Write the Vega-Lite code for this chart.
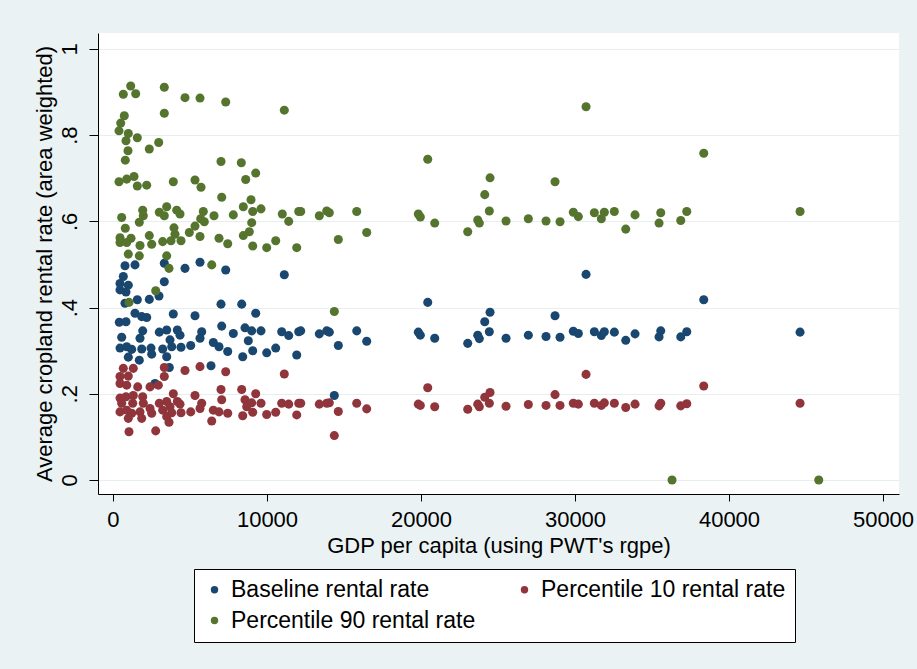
{
  "$schema": "https://vega.github.io/schema/vega-lite/v6.json",
  "width": 801,
  "height": 461,
  "autosize": {"type": "none"},
  "padding": {"left": 98, "top": 33, "right": 18, "bottom": 175},
  "background": "#EAF2F3",
  "view": {"fill": "white", "stroke": null},
  "config": {
    "font": "Liberation Sans",
    "axis": {"labelFont": "Liberation Sans", "titleFont": "Liberation Sans", "labelColor": "black", "titleColor": "black", "domainColor": "black", "tickColor": "black", "titleFontWeight": "normal"},
    "legend": {"labelFont": "Liberation Sans"}
  },
  "data": {"values": [
    {"s":"Baseline rental rate","x":779,"y":0.497},{"s":"Baseline rental rate","x":1429,"y":0.499},{"s":"Baseline rental rate","x":3331,"y":0.503},{"s":"Baseline rental rate","x":4676,"y":0.491},{"s":"Baseline rental rate","x":5650,"y":0.505},{"s":"Baseline rental rate","x":7319,"y":0.487},{"s":"Baseline rental rate","x":11124,"y":0.476},{"s":"Baseline rental rate","x":669,"y":0.472},{"s":"Baseline rental rate","x":455,"y":0.456},{"s":"Baseline rental rate","x":994,"y":0.452},{"s":"Baseline rental rate","x":3331,"y":0.46},{"s":"Baseline rental rate","x":455,"y":0.441},{"s":"Baseline rental rate","x":844,"y":0.436},{"s":"Baseline rental rate","x":779,"y":0.41},{"s":"Baseline rental rate","x":1578,"y":0.418},{"s":"Baseline rental rate","x":2357,"y":0.419},{"s":"Baseline rental rate","x":2987,"y":0.427},{"s":"Baseline rental rate","x":7014,"y":0.408},{"s":"Baseline rental rate","x":8358,"y":0.408},{"s":"Baseline rental rate","x":9267,"y":0.387},{"s":"Baseline rental rate","x":1429,"y":0.387},{"s":"Baseline rental rate","x":1864,"y":0.379},{"s":"Baseline rental rate","x":2188,"y":0.377},{"s":"Baseline rental rate","x":409,"y":0.366},{"s":"Baseline rental rate","x":844,"y":0.367},{"s":"Baseline rental rate","x":3916,"y":0.385},{"s":"Baseline rental rate","x":5325,"y":0.381},{"s":"Baseline rental rate","x":7059,"y":0.357},{"s":"Baseline rental rate","x":7812,"y":0.34},{"s":"Baseline rental rate","x":8572,"y":0.353},{"s":"Baseline rental rate","x":9007,"y":0.346},{"s":"Baseline rental rate","x":9611,"y":0.346},{"s":"Baseline rental rate","x":10955,"y":0.344},{"s":"Baseline rental rate","x":11410,"y":0.335},{"s":"Baseline rental rate","x":12060,"y":0.344},{"s":"Baseline rental rate","x":565,"y":0.331},{"s":"Baseline rental rate","x":1929,"y":0.346},{"s":"Baseline rental rate","x":1753,"y":0.329},{"s":"Baseline rental rate","x":3007,"y":0.343},{"s":"Baseline rental rate","x":3487,"y":0.348},{"s":"Baseline rental rate","x":4176,"y":0.348},{"s":"Baseline rental rate","x":4351,"y":0.336},{"s":"Baseline rental rate","x":5760,"y":0.344},{"s":"Baseline rental rate","x":5650,"y":0.329},{"s":"Baseline rental rate","x":3702,"y":0.325},{"s":"Baseline rental rate","x":5046,"y":0.312},{"s":"Baseline rental rate","x":6514,"y":0.319},{"s":"Baseline rental rate","x":6884,"y":0.309},{"s":"Baseline rental rate","x":7449,"y":0.298},{"s":"Baseline rental rate","x":8786,"y":0.323},{"s":"Baseline rental rate","x":9072,"y":0.3},{"s":"Baseline rental rate","x":9981,"y":0.295},{"s":"Baseline rental rate","x":10566,"y":0.306},{"s":"Baseline rental rate","x":11930,"y":0.29},{"s":"Baseline rental rate","x":8423,"y":0.286},{"s":"Baseline rental rate","x":455,"y":0.306},{"s":"Baseline rental rate","x":890,"y":0.309},{"s":"Baseline rental rate","x":1214,"y":0.303},{"s":"Baseline rental rate","x":1864,"y":0.304},{"s":"Baseline rental rate","x":2468,"y":0.306},{"s":"Baseline rental rate","x":2513,"y":0.292},{"s":"Baseline rental rate","x":3227,"y":0.304},{"s":"Baseline rental rate","x":3812,"y":0.309},{"s":"Baseline rental rate","x":4416,"y":0.308},{"s":"Baseline rental rate","x":994,"y":0.285},{"s":"Baseline rental rate","x":1708,"y":0.278},{"s":"Baseline rental rate","x":3487,"y":0.286},{"s":"Baseline rental rate","x":3656,"y":0.261},{"s":"Baseline rental rate","x":6364,"y":0.265},{"s":"Baseline rental rate","x":2727,"y":0.224},{"s":"Baseline rental rate","x":20437,"y":0.412},{"s":"Baseline rental rate","x":24483,"y":0.389},{"s":"Baseline rental rate","x":24139,"y":0.367},{"s":"Baseline rental rate","x":28703,"y":0.381},{"s":"Baseline rental rate","x":12190,"y":0.346},{"s":"Baseline rental rate","x":13397,"y":0.339},{"s":"Baseline rental rate","x":13878,"y":0.346},{"s":"Baseline rental rate","x":14046,"y":0.343},{"s":"Baseline rental rate","x":15826,"y":0.346},{"s":"Baseline rental rate","x":14631,"y":0.312},{"s":"Baseline rental rate","x":16475,"y":0.322},{"s":"Baseline rental rate","x":14371,"y":0.196},{"s":"Baseline rental rate","x":19826,"y":0.343},{"s":"Baseline rental rate","x":19956,"y":0.336},{"s":"Baseline rental rate","x":20891,"y":0.329},{"s":"Baseline rental rate","x":23034,"y":0.317},{"s":"Baseline rental rate","x":23684,"y":0.336},{"s":"Baseline rental rate","x":23788,"y":0.328},{"s":"Baseline rental rate","x":24437,"y":0.344},{"s":"Baseline rental rate","x":25522,"y":0.329},{"s":"Baseline rental rate","x":26970,"y":0.336},{"s":"Baseline rental rate","x":28119,"y":0.333},{"s":"Baseline rental rate","x":29028,"y":0.331},{"s":"Baseline rental rate","x":29892,"y":0.345},{"s":"Baseline rental rate","x":30217,"y":0.34},{"s":"Baseline rental rate","x":30717,"y":0.477},{"s":"Baseline rental rate","x":38360,"y":0.418},{"s":"Baseline rental rate","x":44614,"y":0.343},{"s":"Baseline rental rate","x":31256,"y":0.344},{"s":"Baseline rental rate","x":31710,"y":0.335},{"s":"Baseline rental rate","x":31905,"y":0.344},{"s":"Baseline rental rate","x":32555,"y":0.343},{"s":"Baseline rental rate","x":33295,"y":0.324},{"s":"Baseline rental rate","x":33899,"y":0.339},{"s":"Baseline rental rate","x":35568,"y":0.346},{"s":"Baseline rental rate","x":35458,"y":0.332},{"s":"Baseline rental rate","x":36867,"y":0.332},{"s":"Baseline rental rate","x":37257,"y":0.344},
    {"s":"Percentile 10 rental rate","x":1039,"y":0.112},{"s":"Percentile 10 rental rate","x":2773,"y":0.114},{"s":"Percentile 10 rental rate","x":6410,"y":0.137},{"s":"Percentile 10 rental rate","x":3637,"y":0.134},{"s":"Percentile 10 rental rate","x":4676,"y":0.254},{"s":"Percentile 10 rental rate","x":5650,"y":0.263},{"s":"Percentile 10 rental rate","x":7319,"y":0.251},{"s":"Percentile 10 rental rate","x":11124,"y":0.246},{"s":"Percentile 10 rental rate","x":3331,"y":0.261},{"s":"Percentile 10 rental rate","x":669,"y":0.259},{"s":"Percentile 10 rental rate","x":1318,"y":0.259},{"s":"Percentile 10 rental rate","x":455,"y":0.24},{"s":"Percentile 10 rental rate","x":994,"y":0.241},{"s":"Percentile 10 rental rate","x":3331,"y":0.24},{"s":"Percentile 10 rental rate","x":455,"y":0.224},{"s":"Percentile 10 rental rate","x":890,"y":0.22},{"s":"Percentile 10 rental rate","x":2942,"y":0.22},{"s":"Percentile 10 rental rate","x":2403,"y":0.216},{"s":"Percentile 10 rental rate","x":1604,"y":0.216},{"s":"Percentile 10 rental rate","x":7014,"y":0.21},{"s":"Percentile 10 rental rate","x":8358,"y":0.21},{"s":"Percentile 10 rental rate","x":9267,"y":0.2},{"s":"Percentile 10 rental rate","x":3916,"y":0.2},{"s":"Percentile 10 rental rate","x":5325,"y":0.196},{"s":"Percentile 10 rental rate","x":7059,"y":0.186},{"s":"Percentile 10 rental rate","x":8572,"y":0.186},{"s":"Percentile 10 rental rate","x":9007,"y":0.179},{"s":"Percentile 10 rental rate","x":9611,"y":0.178},{"s":"Percentile 10 rental rate","x":10955,"y":0.178},{"s":"Percentile 10 rental rate","x":11410,"y":0.176},{"s":"Percentile 10 rental rate","x":12060,"y":0.178},{"s":"Percentile 10 rental rate","x":455,"y":0.19},{"s":"Percentile 10 rental rate","x":844,"y":0.193},{"s":"Percentile 10 rental rate","x":1318,"y":0.196},{"s":"Percentile 10 rental rate","x":1929,"y":0.193},{"s":"Percentile 10 rental rate","x":1968,"y":0.178},{"s":"Percentile 10 rental rate","x":565,"y":0.178},{"s":"Percentile 10 rental rate","x":1279,"y":0.178},{"s":"Percentile 10 rental rate","x":3007,"y":0.178},{"s":"Percentile 10 rental rate","x":3487,"y":0.182},{"s":"Percentile 10 rental rate","x":4176,"y":0.182},{"s":"Percentile 10 rental rate","x":4351,"y":0.176},{"s":"Percentile 10 rental rate","x":5760,"y":0.178},{"s":"Percentile 10 rental rate","x":5650,"y":0.166},{"s":"Percentile 10 rental rate","x":3702,"y":0.17},{"s":"Percentile 10 rental rate","x":5046,"y":0.158},{"s":"Percentile 10 rental rate","x":6514,"y":0.162},{"s":"Percentile 10 rental rate","x":6884,"y":0.158},{"s":"Percentile 10 rental rate","x":7449,"y":0.155},{"s":"Percentile 10 rental rate","x":8683,"y":0.17},{"s":"Percentile 10 rental rate","x":9072,"y":0.157},{"s":"Percentile 10 rental rate","x":9981,"y":0.152},{"s":"Percentile 10 rental rate","x":10566,"y":0.157},{"s":"Percentile 10 rental rate","x":11930,"y":0.151},{"s":"Percentile 10 rental rate","x":8423,"y":0.149},{"s":"Percentile 10 rental rate","x":455,"y":0.158},{"s":"Percentile 10 rental rate","x":890,"y":0.162},{"s":"Percentile 10 rental rate","x":1214,"y":0.155},{"s":"Percentile 10 rental rate","x":1753,"y":0.158},{"s":"Percentile 10 rental rate","x":1864,"y":0.143},{"s":"Percentile 10 rental rate","x":994,"y":0.143},{"s":"Percentile 10 rental rate","x":2513,"y":0.155},{"s":"Percentile 10 rental rate","x":3227,"y":0.162},{"s":"Percentile 10 rental rate","x":3812,"y":0.156},{"s":"Percentile 10 rental rate","x":4416,"y":0.156},{"s":"Percentile 10 rental rate","x":3487,"y":0.147},{"s":"Percentile 10 rental rate","x":2403,"y":0.166},{"s":"Percentile 10 rental rate","x":20437,"y":0.214},{"s":"Percentile 10 rental rate","x":24483,"y":0.203},{"s":"Percentile 10 rental rate","x":24139,"y":0.192},{"s":"Percentile 10 rental rate","x":28703,"y":0.198},{"s":"Percentile 10 rental rate","x":12190,"y":0.178},{"s":"Percentile 10 rental rate","x":13397,"y":0.176},{"s":"Percentile 10 rental rate","x":13878,"y":0.178},{"s":"Percentile 10 rental rate","x":14046,"y":0.179},{"s":"Percentile 10 rental rate","x":15826,"y":0.178},{"s":"Percentile 10 rental rate","x":14631,"y":0.159},{"s":"Percentile 10 rental rate","x":16475,"y":0.165},{"s":"Percentile 10 rental rate","x":14371,"y":0.103},{"s":"Percentile 10 rental rate","x":19826,"y":0.176},{"s":"Percentile 10 rental rate","x":19956,"y":0.173},{"s":"Percentile 10 rental rate","x":20891,"y":0.17},{"s":"Percentile 10 rental rate","x":23034,"y":0.164},{"s":"Percentile 10 rental rate","x":23684,"y":0.176},{"s":"Percentile 10 rental rate","x":23788,"y":0.17},{"s":"Percentile 10 rental rate","x":24437,"y":0.178},{"s":"Percentile 10 rental rate","x":25522,"y":0.171},{"s":"Percentile 10 rental rate","x":26970,"y":0.175},{"s":"Percentile 10 rental rate","x":28119,"y":0.173},{"s":"Percentile 10 rental rate","x":29028,"y":0.173},{"s":"Percentile 10 rental rate","x":29892,"y":0.178},{"s":"Percentile 10 rental rate","x":30217,"y":0.176},{"s":"Percentile 10 rental rate","x":30717,"y":0.245},{"s":"Percentile 10 rental rate","x":38360,"y":0.218},{"s":"Percentile 10 rental rate","x":44614,"y":0.178},{"s":"Percentile 10 rental rate","x":31256,"y":0.178},{"s":"Percentile 10 rental rate","x":31710,"y":0.173},{"s":"Percentile 10 rental rate","x":31905,"y":0.179},{"s":"Percentile 10 rental rate","x":32555,"y":0.178},{"s":"Percentile 10 rental rate","x":33295,"y":0.168},{"s":"Percentile 10 rental rate","x":33899,"y":0.176},{"s":"Percentile 10 rental rate","x":35568,"y":0.178},{"s":"Percentile 10 rental rate","x":35458,"y":0.172},{"s":"Percentile 10 rental rate","x":36867,"y":0.172},{"s":"Percentile 10 rental rate","x":37257,"y":0.177},
    {"s":"Percentile 90 rental rate","x":1149,"y":0.914},{"s":"Percentile 90 rental rate","x":669,"y":0.895},{"s":"Percentile 90 rental rate","x":1474,"y":0.896},{"s":"Percentile 90 rental rate","x":3331,"y":0.911},{"s":"Percentile 90 rental rate","x":4676,"y":0.887},{"s":"Percentile 90 rental rate","x":5650,"y":0.886},{"s":"Percentile 90 rental rate","x":7319,"y":0.877},{"s":"Percentile 90 rental rate","x":11124,"y":0.858},{"s":"Percentile 90 rental rate","x":3331,"y":0.851},{"s":"Percentile 90 rental rate","x":734,"y":0.845},{"s":"Percentile 90 rental rate","x":500,"y":0.828},{"s":"Percentile 90 rental rate","x":390,"y":0.81},{"s":"Percentile 90 rental rate","x":994,"y":0.804},{"s":"Percentile 90 rental rate","x":1578,"y":0.794},{"s":"Percentile 90 rental rate","x":844,"y":0.787},{"s":"Percentile 90 rental rate","x":2968,"y":0.783},{"s":"Percentile 90 rental rate","x":2357,"y":0.768},{"s":"Percentile 90 rental rate","x":974,"y":0.764},{"s":"Percentile 90 rental rate","x":799,"y":0.742},{"s":"Percentile 90 rental rate","x":7014,"y":0.739},{"s":"Percentile 90 rental rate","x":8332,"y":0.736},{"s":"Percentile 90 rental rate","x":9267,"y":0.712},{"s":"Percentile 90 rental rate","x":8618,"y":0.697},{"s":"Percentile 90 rental rate","x":390,"y":0.692},{"s":"Percentile 90 rental rate","x":890,"y":0.698},{"s":"Percentile 90 rental rate","x":1364,"y":0.704},{"s":"Percentile 90 rental rate","x":1578,"y":0.682},{"s":"Percentile 90 rental rate","x":2188,"y":0.684},{"s":"Percentile 90 rental rate","x":3916,"y":0.692},{"s":"Percentile 90 rental rate","x":5325,"y":0.696},{"s":"Percentile 90 rental rate","x":5715,"y":0.679},{"s":"Percentile 90 rental rate","x":7059,"y":0.656},{"s":"Percentile 90 rental rate","x":8962,"y":0.65},{"s":"Percentile 90 rental rate","x":8462,"y":0.634},{"s":"Percentile 90 rental rate","x":9611,"y":0.629},{"s":"Percentile 90 rental rate","x":9072,"y":0.623},{"s":"Percentile 90 rental rate","x":10994,"y":0.617},{"s":"Percentile 90 rental rate","x":11410,"y":0.6},{"s":"Percentile 90 rental rate","x":12060,"y":0.623},{"s":"Percentile 90 rental rate","x":1929,"y":0.626},{"s":"Percentile 90 rental rate","x":1968,"y":0.613},{"s":"Percentile 90 rental rate","x":1708,"y":0.598},{"s":"Percentile 90 rental rate","x":565,"y":0.609},{"s":"Percentile 90 rental rate","x":3007,"y":0.621},{"s":"Percentile 90 rental rate","x":3487,"y":0.634},{"s":"Percentile 90 rental rate","x":3331,"y":0.613},{"s":"Percentile 90 rental rate","x":4137,"y":0.626},{"s":"Percentile 90 rental rate","x":4351,"y":0.617},{"s":"Percentile 90 rental rate","x":5864,"y":0.623},{"s":"Percentile 90 rental rate","x":5695,"y":0.606},{"s":"Percentile 90 rental rate","x":5929,"y":0.599},{"s":"Percentile 90 rental rate","x":5325,"y":0.589},{"s":"Percentile 90 rental rate","x":6559,"y":0.613},{"s":"Percentile 90 rental rate","x":7812,"y":0.615},{"s":"Percentile 90 rental rate","x":9007,"y":0.597},{"s":"Percentile 90 rental rate","x":8851,"y":0.576},{"s":"Percentile 90 rental rate","x":8462,"y":0.567},{"s":"Percentile 90 rental rate","x":799,"y":0.584},{"s":"Percentile 90 rental rate","x":455,"y":0.562},{"s":"Percentile 90 rental rate","x":1169,"y":0.561},{"s":"Percentile 90 rental rate","x":455,"y":0.551},{"s":"Percentile 90 rental rate","x":890,"y":0.551},{"s":"Percentile 90 rental rate","x":1753,"y":0.544},{"s":"Percentile 90 rental rate","x":2357,"y":0.567},{"s":"Percentile 90 rental rate","x":2513,"y":0.547},{"s":"Percentile 90 rental rate","x":3227,"y":0.553},{"s":"Percentile 90 rental rate","x":3767,"y":0.555},{"s":"Percentile 90 rental rate","x":3961,"y":0.585},{"s":"Percentile 90 rental rate","x":4026,"y":0.57},{"s":"Percentile 90 rental rate","x":4416,"y":0.555},{"s":"Percentile 90 rental rate","x":4955,"y":0.574},{"s":"Percentile 90 rental rate","x":5650,"y":0.565},{"s":"Percentile 90 rental rate","x":6884,"y":0.561},{"s":"Percentile 90 rental rate","x":7449,"y":0.548},{"s":"Percentile 90 rental rate","x":9072,"y":0.543},{"s":"Percentile 90 rental rate","x":9981,"y":0.539},{"s":"Percentile 90 rental rate","x":10566,"y":0.555},{"s":"Percentile 90 rental rate","x":11930,"y":0.539},{"s":"Percentile 90 rental rate","x":994,"y":0.524},{"s":"Percentile 90 rental rate","x":1708,"y":0.52},{"s":"Percentile 90 rental rate","x":3487,"y":0.52},{"s":"Percentile 90 rental rate","x":6410,"y":0.499},{"s":"Percentile 90 rental rate","x":3637,"y":0.491},{"s":"Percentile 90 rental rate","x":2773,"y":0.439},{"s":"Percentile 90 rental rate","x":1039,"y":0.412},{"s":"Percentile 90 rental rate","x":14371,"y":0.391},{"s":"Percentile 90 rental rate","x":20437,"y":0.744},{"s":"Percentile 90 rental rate","x":24483,"y":0.701},{"s":"Percentile 90 rental rate","x":24139,"y":0.662},{"s":"Percentile 90 rental rate","x":28703,"y":0.692},{"s":"Percentile 90 rental rate","x":12190,"y":0.623},{"s":"Percentile 90 rental rate","x":13397,"y":0.613},{"s":"Percentile 90 rental rate","x":13878,"y":0.624},{"s":"Percentile 90 rental rate","x":14046,"y":0.62},{"s":"Percentile 90 rental rate","x":15826,"y":0.623},{"s":"Percentile 90 rental rate","x":14631,"y":0.558},{"s":"Percentile 90 rental rate","x":16475,"y":0.574},{"s":"Percentile 90 rental rate","x":19826,"y":0.617},{"s":"Percentile 90 rental rate","x":19956,"y":0.61},{"s":"Percentile 90 rental rate","x":20891,"y":0.596},{"s":"Percentile 90 rental rate","x":23034,"y":0.576},{"s":"Percentile 90 rental rate","x":23684,"y":0.603},{"s":"Percentile 90 rental rate","x":23788,"y":0.596},{"s":"Percentile 90 rental rate","x":24437,"y":0.624},{"s":"Percentile 90 rental rate","x":25522,"y":0.601},{"s":"Percentile 90 rental rate","x":26970,"y":0.606},{"s":"Percentile 90 rental rate","x":28119,"y":0.601},{"s":"Percentile 90 rental rate","x":29028,"y":0.599},{"s":"Percentile 90 rental rate","x":29892,"y":0.621},{"s":"Percentile 90 rental rate","x":30217,"y":0.611},{"s":"Percentile 90 rental rate","x":30717,"y":0.866},{"s":"Percentile 90 rental rate","x":38360,"y":0.758},{"s":"Percentile 90 rental rate","x":44614,"y":0.623},{"s":"Percentile 90 rental rate","x":31256,"y":0.62},{"s":"Percentile 90 rental rate","x":31710,"y":0.606},{"s":"Percentile 90 rental rate","x":31905,"y":0.621},{"s":"Percentile 90 rental rate","x":32555,"y":0.623},{"s":"Percentile 90 rental rate","x":33295,"y":0.582},{"s":"Percentile 90 rental rate","x":33899,"y":0.615},{"s":"Percentile 90 rental rate","x":35568,"y":0.62},{"s":"Percentile 90 rental rate","x":35458,"y":0.596},{"s":"Percentile 90 rental rate","x":36867,"y":0.602},{"s":"Percentile 90 rental rate","x":37257,"y":0.623},{"s":"Percentile 90 rental rate","x":36302,"y":0},{"s":"Percentile 90 rental rate","x":45828,"y":0}
  ]},
  "mark": {"type": "point", "filled": true, "size": 82, "opacity": 1, "shape": "circle"},
  "encoding": {
    "x": {
      "field": "x", "type": "quantitative",
      "scale": {"domain": [-974, 51039], "nice": false, "zero": false},
      "axis": {
        "title": "GDP per capita (using PWT's rgpe)",
        "values": [0, 10000, 20000, 30000, 40000, 50000],
        "format": "d",
        "grid": false,
        "labelFontSize": 22,
        "titleFontSize": 22,
        "tickSize": 7,
        "labelPadding": 8,
        "titlePadding": 5,
        "labelFlush": false,
        "labelOverlap": false
      }
    },
    "y": {
      "field": "y", "type": "quantitative",
      "scale": {"domain": [-0.0325, 1.037], "nice": false, "zero": false},
      "axis": {
        "title": "Average cropland rental rate (area weighted)",
        "values": [0, 0.2, 0.4, 0.6, 0.8, 1],
        "labelExpr": "datum.value == 0 ? '0' : datum.value == 1 ? '1' : replace(format(datum.value, '.1f'), '0.', '.')",
        "grid": true,
        "gridColor": "#E6EEF0",
        "gridWidth": 1,
        "labelAngle": -90,
        "labelAlign": "center",
        "labelBaseline": "bottom",
        "labelFontSize": 22,
        "titleFontSize": 22,
        "tickSize": 9,
        "labelPadding": 8,
        "titlePadding": 2,
        "labelFlush": false,
        "labelOverlap": false
      }
    },
    "color": {
      "field": "s", "type": "nominal",
      "scale": {
        "domain": ["Baseline rental rate", "Percentile 10 rental rate", "Percentile 90 rental rate"],
        "range": ["#1A476F", "#90353B", "#55752F"]
      },
      "legend": {
        "title": null,
        "orient": "none",
        "legendX": 96,
        "legendY": 536,
        "columns": 2,
        "direction": "horizontal",
        "fillColor": "white",
        "strokeColor": "black",
        "padding": 9,
        "symbolType": "circle",
        "symbolSize": 55,
        "symbolStrokeWidth": 0,
        "labelFontSize": 23,
        "labelColor": "black",
        "labelOffset": 5,
        "rowPadding": 7,
        "columnPadding": 37,
        "labelLimit": 400
      }
    }
  }
}
